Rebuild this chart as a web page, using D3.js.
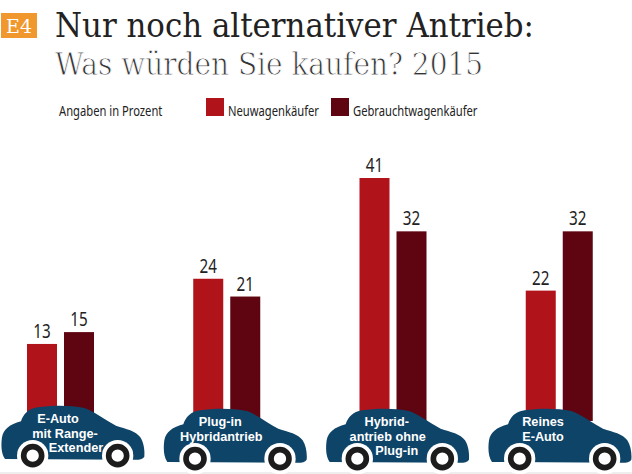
<!DOCTYPE html>
<html>
<head>
<meta charset="utf-8">
<script src="https://cdn.jsdelivr.net/npm/d3@7"></script>
<style>
html, body { margin: 0; padding: 0; background: #fff; }
svg { display: block; }
text { font-family: "Noto Sans", sans-serif; }
</style>
</head>
<body>
<div id="chart"></div>
<script>
var categories = ["E-Auto mit Range-Extender", "Plug-in Hybridantrieb", "Hybridantrieb ohne Plug-in", "Reines E-Auto"];
var carLabels = [
	["E-Auto", "mit Range-", "Extender"],
	["Plug-in", "Hybridantrieb"],
	["Hybrid-", "antrieb ohne", "Plug-in"],
	["Reines", "E-Auto"]
];
var seriesNames = ["Neuwagenkäufer", "Gebrauchtwagenkäufer"];
var neuwagen = [13, 24, 41, 22];
var gebraucht = [15, 21, 32, 32];

var seriesColors = ["#b1131b", "#5e0511"];
var carColor = "#0e4468";
var width = 632, height = 474;

// no condensed face installed, so squeeze the measured text
function condense(sel, k) {
	sel.each(function() {
		var len = this.getComputedTextLength();
		d3.select(this)
			.attr("textLength", len * k)
			.attr("lengthAdjust", "spacingAndGlyphs");
	});
}

var svg = d3.select("#chart").append("svg")
	.attr("width", width)
	.attr("height", height);

svg.append("rect")
	.attr("x", 0).attr("y", 472)
	.attr("width", width).attr("height", 2)
	.attr("fill", "#eeeeee");

// title block
svg.append("rect")
	.attr("x", 1).attr("y", 13)
	.attr("width", 36).attr("height", 25)
	.attr("fill", "#f0972e");
svg.append("text")
	.attr("x", 19).attr("y", 33)
	.attr("text-anchor", "middle")
	.style("font-family", "'DejaVu Serif'")
	.style("font-size", "19px")
	.attr("fill", "#fff")
	.text("E4");
svg.append("text")
	.attr("x", 55).attr("y", 37)
	.attr("textLength", 479)
	.attr("lengthAdjust", "spacingAndGlyphs")
	.style("font-family", "'DejaVu Serif'")
	.style("font-size", "33px")
	.attr("fill", "#222")
	.text("Nur noch alternativer Antrieb:");
// white stroke over the fill thins the glyphs to a light cut
svg.append("text")
	.attr("x", 55).attr("y", 75)
	.attr("textLength", 428)
	.attr("lengthAdjust", "spacingAndGlyphs")
	.style("font-family", "'DejaVu Serif'")
	.style("font-size", "32px")
	.attr("fill", "#333")
	.attr("stroke", "#fff")
	.attr("stroke-width", 0.9)
	.text("Was würden Sie kaufen? 2015");

// legend
svg.append("text")
	.attr("x", 59).attr("y", 116)
	.style("font-size", "14px")
	.attr("fill", "#222")
	.text("Angaben in Prozent")
	.call(condense, 0.8);

var legendX = d3.scaleOrdinal().domain(seriesNames).range([206, 331]);
var legend = svg.selectAll(".legend")
	.data(seriesNames)
	.enter().append("g")
	.attr("class", "legend")
	.attr("transform", function(d) { return "translate(" + legendX(d) + ",98)"; });
legend.append("rect")
	.attr("width", 18).attr("height", 18)
	.attr("fill", function(d, i) { return seriesColors[i]; });
legend.append("text")
	.attr("x", 22).attr("y", 18)
	.style("font-size", "14px")
	.attr("fill", "#222")
	.text(function(d) { return d; })
	.call(condense, 0.8);

// bars, baseline sits behind the cars
var x0 = d3.scaleBand()
	.domain(categories)
	.range([27, 692])
	.paddingInner(0)
	.paddingOuter(0);

var y = d3.scaleLinear()
	.domain([0, 41])
	.range([421, 178]);

var rows = categories.map(function(c, i) {
	return { cat: c, values: [neuwagen[i], gebraucht[i]] };
});

var groups = svg.selectAll(".group")
	.data(rows)
	.enter().append("g")
	.attr("class", "group")
	.attr("transform", function(d) { return "translate(" + x0(d.cat) + ",0)"; });

var barWidth = 30, barStep = 37;

groups.selectAll("rect")
	.data(function(d) { return d.values; })
	.enter().append("rect")
	.attr("x", function(d, i) { return i * barStep; })
	.attr("y", function(d) { return y(d); })
	.attr("width", barWidth)
	.attr("height", function(d) { return y(0) - y(d); })
	.attr("fill", function(d, i) { return seriesColors[i]; });

groups.selectAll(".val")
	.data(function(d) { return d.values; })
	.enter().append("text")
	.attr("class", "val")
	.attr("x", function(d, i) { return i * barStep + barWidth / 2; })
	.attr("y", function(d) { return y(d) - 6; })
	.attr("text-anchor", "middle")
	.style("font-size", "20px")
	.attr("fill", "#222")
	.text(function(d) { return d; })
	.call(condense, 0.76);

// car icon, outline in local units (3 units = 1px)
var carBody = "M12 195 C0 180 0 150 3 130 C8 105 25 92 60 82 C68 60 80 45 110 40 C150 33 210 33 250 42 C280 52 315 80 345 95 C375 105 405 110 418 130 C428 145 432 170 430 188 C425 197 410 198 395 197 L12 195 Z";
var carX = d3.scalePoint().domain(categories).range([1, 488]);
var carY = [0, 3, 3, 3];
// small sideways shifts of the label lines, they dodge the wheel wells
var lineShift = [[57, 64, 75], [57, 58], [61, 62, 71], [55, 55]];

var cars = svg.selectAll(".car")
	.data(categories)
	.enter().append("g")
	.attr("class", "car")
	.attr("transform", function(d, i) { return "translate(" + carX(d) + "," + (394 + carY[i]) + ")"; });

var shape = cars.append("g").attr("transform", "scale(0.3333)");
shape.append("path").attr("d", carBody).attr("fill", carColor);
[95, 350].forEach(function(cx) {
	shape.append("circle").attr("cx", cx).attr("cy", 185).attr("r", 47).attr("fill", "#fff");
	shape.append("circle").attr("cx", cx).attr("cy", 185).attr("r", 27).attr("fill", "#fff")
		.attr("stroke", "#1c1c1c").attr("stroke-width", 17);
});

cars.each(function(d, i) {
	d3.select(this).selectAll("text")
		.data(carLabels[i])
		.enter().append("text")
		.attr("x", function(t, j) { return lineShift[i][j]; })
		.attr("y", function(t, j) { return 29 + j * 14.7; })
		.attr("text-anchor", "middle")
		.style("font-family", "'Liberation Sans'")
		.style("font-size", "12.7px")
		.style("font-weight", "bold")
		.attr("fill", "#fff")
		.text(function(t) { return t; });
});
</script>
</body>
</html>
